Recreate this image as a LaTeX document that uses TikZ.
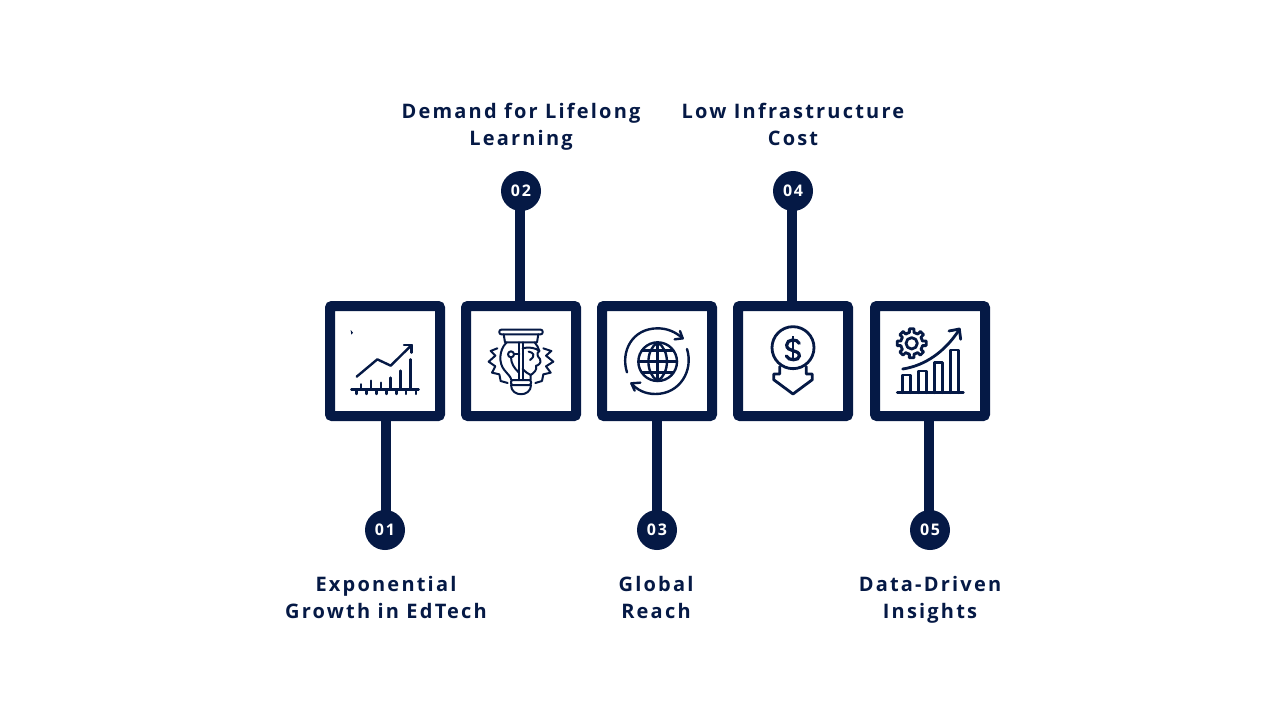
\documentclass[tikz,border=0pt]{standalone}
\usepackage{fontspec}
\usetikzlibrary{calc}
\setmainfont{Open Sans}[LetterSpace=11]
\definecolor{navy}{HTML}{051945}
\newcommand{\badgetext}[1]{\raisebox{-.6pt}{#1}}
\tikzset{
 panel/.style={draw=navy,fill=white,line width=7.5pt,minimum size=82.5pt,inner sep=0pt,outer sep=0pt,rounded corners=1.5pt},
 badge/.style={circle,fill=navy,text=white,minimum size=30pt,inner sep=0pt,font=\fontsize{12}{14}\selectfont\bfseries},
 stem/.style={draw=navy,line width=7.5pt,shorten >=-2pt,shorten <=-1pt},
 caption/.style={text=navy,align=center,inner sep=0pt,anchor=north,font=\fontsize{15}{20.25}\selectfont\bfseries},
 ico/.style={draw=navy,line width=1.8pt,line join=round,line cap=round},
 icoheavy/.style={draw=navy,line width=2.1pt,line join=round,line cap=round},
 icothin/.style={draw=navy,line width=1.5pt,line join=round,line cap=round}
}
\begin{document}
\begin{tikzpicture}[x=0.75pt,y=-0.75pt]
\useasboundingbox (0,0) rectangle (1280,720);
\node[panel] (b1) at (385,361) {};
\node[panel] (b2) at (521,361) {};
\node[panel] (b3) at (657,361) {};
\node[panel] (b4) at (793,361) {};
\node[panel] (b5) at (930,361) {};
\node[badge] (c1) at (385,530) {\badgetext{01}};
\node[badge] (c2) at (521,191) {\badgetext{02}};
\node[badge] (c3) at (657,530) {\badgetext{03}};
\node[badge] (c4) at (793,191) {\badgetext{04}};
\node[badge] (c5) at (930,530) {\badgetext{05}};
\draw[stem] ([xshift=.75pt]b1.south) -- ([xshift=.75pt]c1.north);
\draw[stem] ([xshift=-.75pt]b2.north) -- ([xshift=-.75pt]c2.south);
\draw[stem] (b3.south) -- (c3.north);
\draw[stem] ([xshift=-.75pt]b4.north) -- ([xshift=-.75pt]c4.south);
\draw[stem] ([xshift=-.75pt]b5.south) -- ([xshift=-.75pt]c5.north);
\node[caption] (t1) at (386,572.5) {\strut Exponential\\\strut Growth in EdTech};
\node[caption] (t2) at (521,99.5) {\strut Demand for Lifelong\\\strut Learning};
\node[caption] (t3) at (656,572.5) {\strut Global\\\strut Reach};
\node[caption] (t4) at (793,99.5) {\strut Low Infrastructure\\\strut Cost};
\node[caption] (t5) at (930,572.5) {\strut Data-Driven\\\strut Insights};
% icon 1
\begin{scope}[shift={(320,295)},x=0.25pt,y=-0.25pt]
\fill[navy] (92,105) -- (99,113) -- (94,119) -- cycle;
\draw[ico] (110,245) -- (172,193) -- (212,212) -- (275,150);
\draw[ico] (252,150) -- (275,150) -- (275,173);
\draw[ico] (94,283) -- (296,283);
\foreach \x in {110,140,170,200,230,258,288} \draw[ico] (\x,283) -- (\x,297);
\draw[ico] (123,283) -- (123,268);
\draw[ico] (153,283) -- (153,257);
\draw[ico] (183,283) -- (183,263);
\draw[ico] (212,283) -- (212,248);
\draw[ico] (242,283) -- (242,227);
\draw[ico] (272,283) -- (272,193);
\end{scope}
% icon 2
\begin{scope}[shift={(456,295)},x=0.25pt,y=-0.25pt]
\draw[icothin,rounded corners=1.5pt] (130,104) rectangle (260,118);
\draw[icothin] (143,118) -- (147,142) -- (243,142) -- (247,118);
\draw[icothin] (152,142) .. controls (128,165) and (128,205) .. (145,225) .. controls (155,238) and (165,245) .. (166,255);
\draw[icothin] (236,142) .. controls (243,150) and (247,158) .. (250,168);
\draw[icothin,rounded corners=1.5pt] (165,255) rectangle (225,270);
\draw[icothin] (165,270) .. controls (165,307) and (225,307) .. (225,270);
\draw[icothin] (190,142) -- (190,255);
\draw[icothin] (200,142) -- (200,255);
\draw[icothin] (165,178) circle[radius=9];
\draw[icothin] (174,178) -- (190,178);
\draw[icothin] (165,187) .. controls (165,205) and (175,220) .. (188,232);
\draw[icothin] (200,160) .. controls (215,155) and (240,158) .. (250,168) .. controls (240,175) and (245,185) .. (252,192) .. controls (258,205) and (245,212) .. (240,212) .. controls (245,225) and (232,235) .. (224,240) -- (224,255);
\draw[icothin] (218,170) .. controls (232,172) and (240,182) .. (222,195);
\draw[icothin] (200,222) .. controls (208,230) and (214,236) .. (224,240);
\draw[icothin] (124,160) -- (104,168) -- (118,182) -- (98,200) -- (118,214) -- (108,233) -- (130,238) -- (134,258) -- (155,264);
\draw[icothin] (262,160) -- (286,168) -- (270,182) -- (292,200) -- (270,214) -- (284,233) -- (262,238) -- (258,258) -- (238,264);
\end{scope}
% icon 3
\begin{scope}[shift={(592,295)},x=0.25pt,y=-0.25pt]
\draw[ico] (197,200) circle[radius=58];
\draw[ico] (197,142) -- (197,258);
\draw[ico] (139,200) -- (255,200);
\draw[ico] (197,142) .. controls (160,165) and (160,235) .. (197,258);
\draw[ico] (197,142) .. controls (234,165) and (234,235) .. (197,258);
\draw[ico] (150,167) -- (244,167);
\draw[ico] (150,233) -- (244,233);
\draw[ico] (105,232) .. controls (85,170) and (120,100) .. (197,100) .. controls (225,100) and (250,110) .. (272,130);
\draw[ico] (264,108) -- (272,130) -- (248,133);
\draw[ico] (285,162) .. controls (305,225) and (265,297) .. (190,297) .. controls (160,297) and (135,285) .. (118,265);
\draw[ico] (145,263) -- (118,265) -- (128,287);
\end{scope}
% icon 4
\begin{scope}[shift={(728,295)},x=0.25pt,y=-0.25pt]
\draw[icoheavy] (195,158) circle[radius=63];
\draw[navy,line width=2.4pt,line cap=round] (214,145) .. controls (208,131) and (176,131) .. (176,150) .. controls (176,173) and (214,161) .. (214,183) .. controls (214,198) and (180,198) .. (175,183);
\draw[navy,line width=2pt] (195,124) -- (195,198);
\draw[icoheavy] (155,215) -- (155,237) -- (137,237) -- (137,254) -- (195,297) -- (253,254) -- (253,237) -- (235,237) -- (235,215);
\end{scope}
% icon 5
\begin{scope}[shift={(865,295)},x=0.25pt,y=-0.25pt]
\draw[icoheavy] (140,145) circle[radius=17];
\foreach \a in {0,45,...,315}
 \draw[icoheavy] ($(140,145)+(\a-22.5:33)$) -- ($(140,145)+(\a-12:33)$) -- ($(140,145)+(\a-9:44)$) -- ($(140,145)+(\a+9:44)$) -- ($(140,145)+(\a+12:33)$) -- ($(140,145)+(\a+22.5:33)$);
\draw[icoheavy] (113,222) .. controls (180,212) and (240,170) .. (282,105);
\draw[icoheavy] (252,108) -- (283,102) -- (287,133);
\draw[icoheavy] (97,293) -- (295,293);
\draw[icoheavy] (113,293) -- (113,240) -- (137,240) -- (137,293);
\draw[icoheavy] (160,293) -- (160,228) -- (185,228) -- (185,293);
\draw[icoheavy] (208,293) -- (208,202) -- (232,202) -- (232,293);
\draw[icoheavy] (256,293) -- (256,165) -- (281,165) -- (281,293);
\end{scope}
\end{tikzpicture}
\end{document}
